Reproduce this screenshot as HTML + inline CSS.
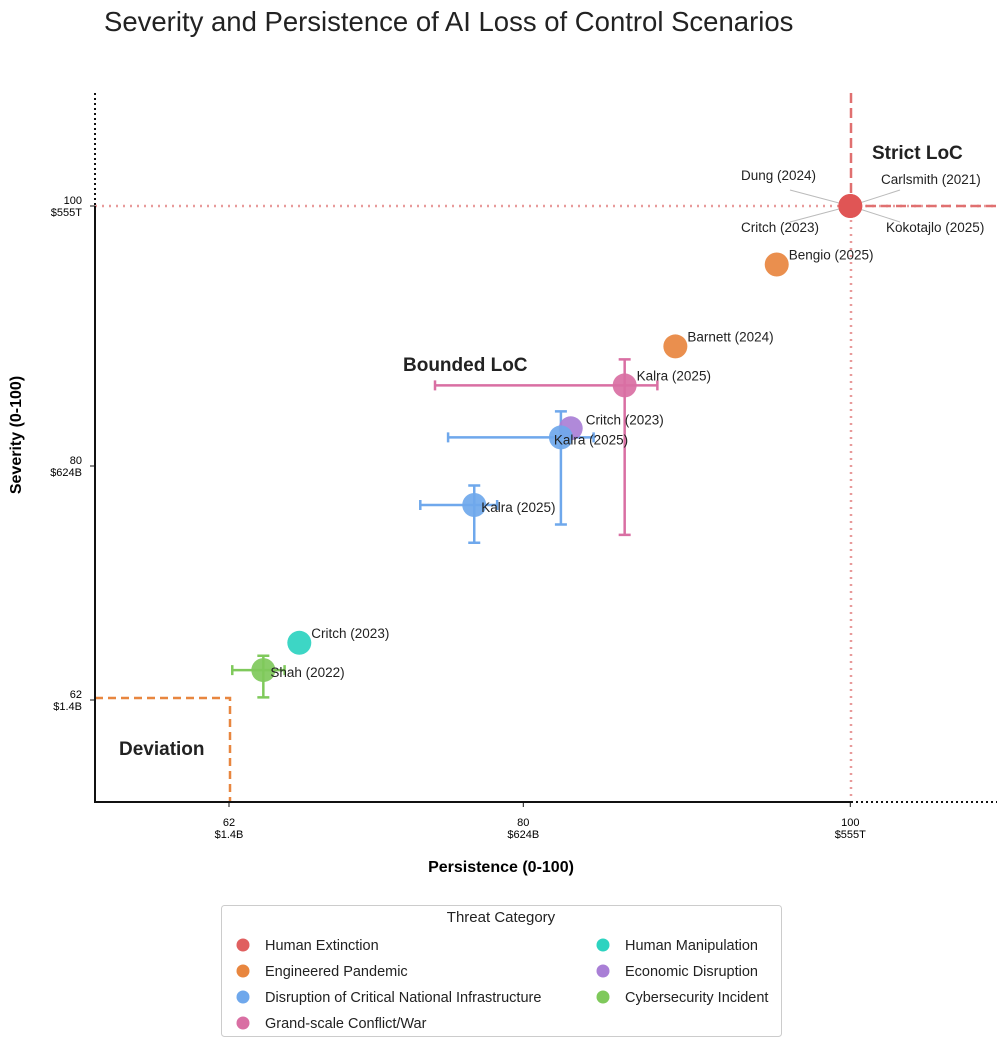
<!DOCTYPE html>
<html><head><meta charset="utf-8"><style>
body{margin:0;background:#fff;font-family:"Liberation Sans",sans-serif}
svg text{font-family:"Liberation Sans",sans-serif}
</style></head><body>
<svg id="c" width="1007" height="1047" xmlns="http://www.w3.org/2000/svg">
<text x="104" y="31" font-size="27.5" fill="#222">Severity and Persistence of AI Loss of Control Scenarios</text>
<g id="g"></g>
</svg>
<script>
const names=["Human Extinction","Engineered Pandemic","Engineered Pandemic","Grand-scale Conflict/War","Economic Disruption","Disruption of Critical National Infrastructure","Disruption of Critical National Infrastructure","Human Manipulation","Cybersecurity Incident"];
const labels=["","Bengio (2025)","Barnett (2024)","Kalra (2025)","Critch (2023)","Kalra (2025)","Kalra (2025)","Critch (2023)","Shah (2022)"];
const persistence=[100,95.5,89.3,86.2,82.9,82.3,77.0,66.3,64.1];
const severity=[100,95.5,89.2,86.2,82.9,82.2,77.0,66.4,64.3];
const xLo=[null,null,null,74.6,null,75.4,73.7,null,62.2];
const xHi=[null,null,null,88.2,null,84.3,78.4,null,65.4];
const yLo=[null,null,null,74.7,null,75.5,74.1,null,62.2];
const yHi=[null,null,null,88.2,null,84.2,78.5,null,65.4];
const xTicks=[62,80,100];const xTickMoney=["$1.4B","$624B","$555T"];
const yTicks=[100,80,62];const yTickMoney=["$555T","$624B","$1.4B"];
const colors={"Human Extinction":"#e06060","Engineered Pandemic":"#e8863f","Disruption of Critical National Infrastructure":"#6fa8ec","Grand-scale Conflict/War":"#d96fa3","Human Manipulation":"#2dd3c0","Economic Disruption":"#a97fd6","Cybersecurity Incident":"#7fc95b"};
const X=v=>229+(v-62)*16.35, Y=v=>206-(v-100)*13.0;
const g=document.getElementById('g');const NS="http://www.w3.org/2000/svg";
function el(t,a,txt){const e=document.createElementNS(NS,t);for(const k in a)e.setAttribute(k,a[k]);if(txt!=null)e.textContent=txt;g.appendChild(e);return e;}
let e;
e=el('line',{x1:95,y1:206,x2:997,y2:206,stroke:'#e89a9a','stroke-width':2.5,'stroke-dasharray':'2,5'});

e=el('line',{x1:851,y1:206,x2:851,y2:802,stroke:'#e89a9a','stroke-width':2.5,'stroke-dasharray':'2,5'});

e=el('line',{x1:851,y1:93,x2:851,y2:206,stroke:'#e07070','stroke-width':2.5,'stroke-dasharray':'10,5'});

e=el('line',{x1:851,y1:206,x2:997,y2:206,stroke:'#e07070','stroke-width':2.5,'stroke-dasharray':'10,5'});

e=el('path',{d:'M95 698 H230 V802',fill:'none',stroke:'#e8863f','stroke-width':2.5,'stroke-dasharray':'8,5'});

e=el('line',{x1:95,y1:93,x2:95,y2:206,stroke:'#111','stroke-width':2,'stroke-dasharray':'2,3'});

e=el('line',{x1:851,y1:802,x2:997,y2:802,stroke:'#111','stroke-width':2,'stroke-dasharray':'2,3'});

e=el('path',{d:'M95 206 V802 H851',fill:'none',stroke:'#111','stroke-width':2});

xTicks.forEach((t,i)=>{const x=X(t);
 e=el('line',{x1:x,y1:802,x2:x,y2:807,stroke:'#111'});
 e=el('text',{x:x,y:826,'font-size':11,'text-anchor':'middle'},String(t));
 e=el('text',{x:x,y:838,'font-size':11,'text-anchor':'middle'},xTickMoney[i]);});
yTicks.forEach((t,i)=>{const y=Y(t);
 e=el('line',{x1:90,y1:y,x2:95,y2:y,stroke:'#111'});
 e=el('text',{x:82,y:y-2,'font-size':11,'text-anchor':'end'},String(t));
 e=el('text',{x:82,y:y+10,'font-size':11,'text-anchor':'end'},yTickMoney[i]);});
e=el('text',{x:501,y:872,'font-size':16,'font-weight':'bold','text-anchor':'middle'},'Persistence (0-100)');
e=el('text',{x:21,y:435,'font-size':16,'font-weight':'bold','text-anchor':'middle',transform:'rotate(-90 21 435)'},'Severity (0-100)');
e=el('text',{x:872,y:159,'font-size':19,'font-weight':'bold',fill:'#222'},'Strict LoC');
e=el('text',{x:403,y:371,'font-size':19,'font-weight':'bold',fill:'#222'},'Bounded LoC');
e=el('text',{x:119,y:755,'font-size':19,'font-weight':'bold',fill:'#222'},'Deviation');
persistence.forEach((p,i)=>{if(xLo[i]==null)return;const c=colors[names[i]],y=Y(severity[i]),x=X(p);
 e=el('path',{d:`M${X(xLo[i])} ${y}H${X(xHi[i])}M${X(xLo[i])} ${y-5}v10M${X(xHi[i])} ${y-5}v10M${x} ${Y(yHi[i])}V${Y(yLo[i])}M${x-6} ${Y(yHi[i])}h12M${x-6} ${Y(yLo[i])}h12`,stroke:c,'stroke-width':2.5,fill:'none'});
 });
persistence.forEach((p,i)=>{const c=colors[names[i]];
 e=el('circle',{cx:X(p),cy:Y(severity[i]),r:12,fill:c,opacity:0.92});
 
 if(labels[i]){e=el('text',{x:X(p)+12,y:Y(severity[i])-5,'font-size':13.5,fill:'#222'},labels[i]);
  if(i==5||i==6||i==8){e.setAttribute('y',Y(severity[i])+7);e.setAttribute('x',X(p)-7+(i==6||i==8?14:0));}
  if(i==4){e.setAttribute('x',X(p)+15);e.setAttribute('y',Y(severity[i])-4);}
  }});
const cx=X(100),cy=Y(100);
[["Dung (2024)",741,180,790,190],["Carlsmith (2021)",881,184,900,190],["Critch (2023)",741,232,790,222],["Kokotajlo (2025)",886,232,900,222]].forEach(a=>{
 e=el('line',{x1:cx,y1:cy,x2:a[3],y2:a[4],stroke:'#bbb','stroke-width':1});
 e=el('text',{x:a[1],y:a[2],'font-size':13.5,fill:'#222'},a[0]);});
e=el('circle',{cx:cx,cy:cy,r:12,fill:'#e05555'});
e=el('rect',{x:221.5,y:905.5,width:560,height:131,rx:3,fill:'#fff',stroke:'#ccc'});
e=el('text',{x:501,y:922,'font-size':15,'text-anchor':'middle',fill:'#222'},'Threat Category');
const leg=[["Human Extinction",243,945],["Engineered Pandemic",243,971],["Disruption of Critical National Infrastructure",243,997],["Grand-scale Conflict/War",243,1023],["Human Manipulation",603,945],["Economic Disruption",603,971],["Cybersecurity Incident",603,997]];
leg.forEach(l=>{e=el('circle',{cx:l[1],cy:l[2],r:6.5,fill:colors[l[0]]});
 e=el('text',{x:l[1]+22,y:l[2]+5,'font-size':14.5,fill:'#222'},l[0]);});
</script>
</body></html>
